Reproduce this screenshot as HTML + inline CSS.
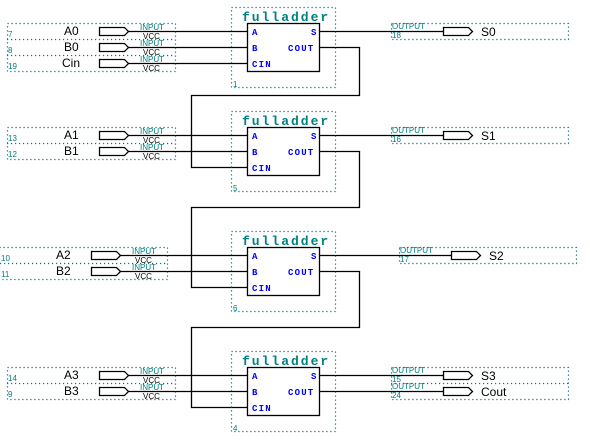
<!DOCTYPE html>
<html><head><style>
body{margin:0;background:#fff}
svg{display:block}
.w{stroke:#000;stroke-width:1.3;fill:none}
.d{stroke:#007a7a;stroke-width:1.2;fill:none;stroke-dasharray:1.2 2.8}
.t{font-family:"Liberation Mono",monospace;font-weight:bold;font-size:13px;fill:#008080;letter-spacing:2px}
.p{font-family:"Liberation Mono",monospace;font-weight:bold;font-size:9px;fill:#0000ff;letter-spacing:1.2px}
.s{font-family:"Liberation Sans",sans-serif;font-size:8px;fill:#008080}
.v{font-family:"Liberation Sans",sans-serif;font-size:8px;fill:#000}
.l{font-family:"Liberation Sans",sans-serif;font-size:12px;fill:#000}
</style></head><body>
<svg width="590" height="445" xmlns="http://www.w3.org/2000/svg">
<defs>
<g id="fa">
<rect class="d" x="231.5" y="7.5" width="104" height="80"/>
<text class="t" x="242" y="21">fulladder</text>
<rect x="247.5" y="23.5" width="72" height="48" fill="#fff" stroke="#000" stroke-width="1.3"/>
<text class="p" x="252" y="35">A</text>
<text class="p" x="252" y="51">B</text>
<text class="p" x="252" y="67">CIN</text>
<text class="p" x="311" y="35">S</text>
<text class="p" x="288" y="51">COUT</text>
</g>
<g id="in"><path class="w" d="M99.5,27.5 H124.5 L128.5,31.5 L124.5,35.5 H99.5 Z"/></g>
<g id="out"><path class="w" d="M443.5,27.5 H468.5 L472.5,31.5 L468.5,35.5 H443.5 Z"/></g>
</defs>

<!-- Block 1 -->
<use href="#fa"/>
<text class="s" x="233" y="87">1</text>
<rect class="d" x="7.5" y="23.5" width="168" height="48"/>
<line class="d" x1="7" y1="39.5" x2="175" y2="39.5"/><line class="d" x1="7" y1="55.5" x2="175" y2="55.5"/>
<use href="#in"/><use href="#in" y="16"/><use href="#in" y="32"/>
<text class="l" x="64" y="35">A0</text><text class="l" x="64" y="51">B0</text><text class="l" x="62" y="67">Cin</text>
<text class="s" x="8" y="37">7</text><text class="s" x="8" y="53">8</text><text class="s" x="8" y="69">19</text>
<text class="s" x="140" y="30">INPUT</text><text class="v" x="143" y="39">VCC</text>
<text class="s" x="140" y="46">INPUT</text><text class="v" x="143" y="55">VCC</text>
<text class="s" x="140" y="62">INPUT</text><text class="v" x="143" y="71">VCC</text>
<path class="w" d="M128,31.5H247M128,47.5H247M128,63.5H247"/>
<rect class="d" x="391.5" y="23.5" width="177" height="16"/>
<use href="#out"/>
<text class="s" x="392" y="29">OUTPUT</text><text class="s" x="392" y="38">18</text>
<text class="l" x="481" y="36">S0</text>
<path class="w" d="M320,31.5H443M320,47.5H359.5V95.5H191.5V167.5H247"/>

<!-- Block 2 -->
<use href="#fa" y="104"/>
<text class="s" x="233" y="191">5</text>
<rect class="d" x="7.5" y="127.5" width="168" height="32"/>
<line class="d" x1="7" y1="143.5" x2="175" y2="143.5"/>
<use href="#in" y="104"/><use href="#in" y="120"/>
<text class="l" x="64" y="139">A1</text><text class="l" x="64" y="155">B1</text>
<text class="s" x="8" y="141">13</text><text class="s" x="8" y="157">12</text>
<text class="s" x="140" y="134">INPUT</text><text class="v" x="143" y="143">VCC</text>
<text class="s" x="140" y="150">INPUT</text><text class="v" x="143" y="159">VCC</text>
<path class="w" d="M128,135.5H247M128,151.5H247"/>
<rect class="d" x="391.5" y="127.5" width="177" height="16"/>
<use href="#out" y="104"/>
<text class="s" x="392" y="133">OUTPUT</text><text class="s" x="392" y="142">16</text>
<text class="l" x="481" y="140">S1</text>
<path class="w" d="M320,135.5H443M320,151.5H359.5V207.5H191.5V287.5H247"/>

<!-- Block 3 -->
<use href="#fa" y="224"/>
<text class="s" x="233" y="311">6</text>
<rect class="d" x="-0.5" y="247.5" width="168" height="32"/>
<line class="d" x1="0" y1="263.5" x2="167" y2="263.5"/>
<use href="#in" x="-8" y="224"/><use href="#in" x="-8" y="240"/>
<text class="l" x="56" y="259">A2</text><text class="l" x="56" y="275">B2</text>
<text class="s" x="1" y="261">10</text><text class="s" x="1" y="277">11</text>
<text class="s" x="132" y="254">INPUT</text><text class="v" x="135" y="263">VCC</text>
<text class="s" x="132" y="270">INPUT</text><text class="v" x="135" y="279">VCC</text>
<path class="w" d="M120,255.5H247M120,271.5H247"/>
<rect class="d" x="399.5" y="247.5" width="177" height="16"/>
<use href="#out" x="8" y="224"/>
<text class="s" x="400" y="253">OUTPUT</text><text class="s" x="400" y="262">17</text>
<text class="l" x="489" y="260">S2</text>
<path class="w" d="M320,255.5H451M320,271.5H359.5V327.5H191.5V407.5H247"/>

<!-- Block 4 -->
<use href="#fa" y="344"/>
<text class="s" x="233" y="431">4</text>
<rect class="d" x="7.5" y="367.5" width="168" height="32"/>
<line class="d" x1="7" y1="383.5" x2="175" y2="383.5"/>
<use href="#in" y="344"/><use href="#in" y="360"/>
<text class="l" x="64" y="379">A3</text><text class="l" x="64" y="395">B3</text>
<text class="s" x="8" y="381">14</text><text class="s" x="8" y="397">9</text>
<text class="s" x="140" y="374">INPUT</text><text class="v" x="143" y="383">VCC</text>
<text class="s" x="140" y="390">INPUT</text><text class="v" x="143" y="399">VCC</text>
<path class="w" d="M128,375.5H247M128,391.5H247"/>
<rect class="d" x="391.5" y="367.5" width="177" height="32"/>
<line class="d" x1="391" y1="383.5" x2="568" y2="383.5"/>
<use href="#out" y="344"/><use href="#out" y="360"/>
<text class="s" x="392" y="373">OUTPUT</text><text class="s" x="392" y="382">15</text>
<text class="s" x="392" y="389">OUTPUT</text><text class="s" x="392" y="398">24</text>
<text class="l" x="481" y="380">S3</text><text class="l" x="481" y="396">Cout</text>
<path class="w" d="M320,375.5H443M320,391.5H443"/>
</svg>
</body></html>
